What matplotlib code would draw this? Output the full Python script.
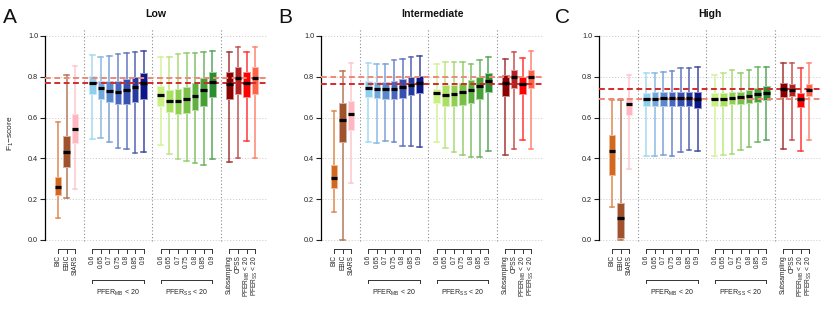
import matplotlib
matplotlib.use("Agg")
import matplotlib.pyplot as plt
import matplotlib.transforms as mtransforms
import matplotlib.colors as mcolors
import numpy as np

plt.rcParams['font.family'] = ['Liberation Sans', 'DejaVu Sans']
plt.rcParams['mathtext.fontset'] = 'custom'
plt.rcParams['mathtext.rm'] = 'Liberation Sans'
plt.rcParams['mathtext.it'] = 'Liberation Sans:italic'
plt.rcParams['mathtext.bf'] = 'Liberation Sans:bold'

# ---------------- data ----------------
panel_letters = ['A', 'B', 'C']
panel_titles = ['Low', 'Intermediate', 'High']

base_labels = ['BIC', 'EBIC', 'StARS']
cutoff_labels = ['0.6', '0.65', '0.7', '0.75', '0.8', '0.85', '0.9']
red_labels = ['Subsampling', 'CPSS', r'PFER$_{\rm MB}$ < 20', r'PFER$_{\rm SS}$ < 20']
group_labels = [r'PFER$_{\rm MB}$ < 20', r'PFER$_{\rm SS}$ < 20']

# order: BIC, EBIC, StARS, MB 0.6..0.9, SS 0.6..0.9, Subsampling, CPSS, PFER_MB, PFER_SS
A_lo  = [0.109, 0.206, 0.250, 0.495, 0.500, 0.482, 0.449, 0.448, 0.428, 0.431,
         0.464, 0.420, 0.395, 0.389, 0.377, 0.368, 0.395, 0.384, 0.400, 0.485, 0.400]
A_q1  = [0.220, 0.360, 0.477, 0.716, 0.691, 0.676, 0.665, 0.665, 0.675, 0.693,
         0.657, 0.629, 0.618, 0.621, 0.637, 0.658, 0.699, 0.690, 0.714, 0.700, 0.714]
A_med = [0.261, 0.429, 0.544, 0.771, 0.747, 0.732, 0.727, 0.734, 0.748, 0.768,
         0.711, 0.683, 0.681, 0.690, 0.706, 0.735, 0.773, 0.765, 0.796, 0.771, 0.796]
A_q3  = [0.310, 0.508, 0.618, 0.804, 0.781, 0.779, 0.779, 0.788, 0.797, 0.820,
         0.755, 0.735, 0.740, 0.748, 0.768, 0.792, 0.822, 0.822, 0.846, 0.822, 0.846]
A_hi  = [0.580, 0.809, 0.853, 0.907, 0.899, 0.902, 0.910, 0.918, 0.920, 0.928,
         0.895, 0.899, 0.910, 0.915, 0.915, 0.923, 0.926, 0.923, 0.948, 0.923, 0.948]

B_lo  = [0.135, 0.000, 0.277, 0.482, 0.474, 0.487, 0.479, 0.463, 0.461, 0.458,
         0.482, 0.450, 0.431, 0.415, 0.406, 0.406, 0.434, 0.418, 0.445, 0.490, 0.445]
B_q1  = [0.256, 0.482, 0.539, 0.703, 0.695, 0.690, 0.690, 0.697, 0.711, 0.723,
         0.671, 0.655, 0.655, 0.661, 0.674, 0.692, 0.724, 0.705, 0.744, 0.716, 0.744]
B_med = [0.305, 0.590, 0.616, 0.745, 0.742, 0.739, 0.742, 0.750, 0.761, 0.771,
         0.719, 0.710, 0.715, 0.724, 0.737, 0.756, 0.781, 0.768, 0.800, 0.763, 0.800]
B_q3  = [0.368, 0.673, 0.681, 0.781, 0.776, 0.776, 0.779, 0.787, 0.797, 0.806,
         0.742, 0.760, 0.761, 0.771, 0.784, 0.800, 0.819, 0.808, 0.832, 0.800, 0.832]
B_hi  = [0.632, 0.826, 0.869, 0.869, 0.865, 0.865, 0.880, 0.885, 0.895, 0.900,
         0.865, 0.873, 0.875, 0.875, 0.865, 0.880, 0.895, 0.885, 0.920, 0.890, 0.925]

C_lo  = [0.160, 0.000, 0.348, 0.413, 0.413, 0.418, 0.410, 0.432, 0.442, 0.437,
         0.410, 0.416, 0.421, 0.440, 0.458, 0.481, 0.490, 0.447, 0.489, 0.434, 0.489]
C_q1  = [0.321, 0.008, 0.615, 0.655, 0.658, 0.658, 0.658, 0.658, 0.655, 0.648,
         0.655, 0.655, 0.666, 0.666, 0.671, 0.676, 0.684, 0.700, 0.705, 0.652, 0.705]
C_med = [0.434, 0.108, 0.665, 0.689, 0.690, 0.694, 0.694, 0.695, 0.694, 0.690,
         0.690, 0.690, 0.697, 0.700, 0.706, 0.715, 0.723, 0.740, 0.735, 0.689, 0.735]
C_q3  = [0.515, 0.179, 0.697, 0.721, 0.724, 0.724, 0.724, 0.724, 0.727, 0.727,
         0.721, 0.721, 0.724, 0.727, 0.735, 0.745, 0.755, 0.769, 0.765, 0.721, 0.765]
C_hi  = [0.687, 0.687, 0.808, 0.818, 0.821, 0.824, 0.829, 0.845, 0.842, 0.847,
         0.810, 0.821, 0.835, 0.821, 0.834, 0.850, 0.850, 0.866, 0.866, 0.845, 0.866]

# reference lines (value, shade)
A_ref = [(0.795, 'light'), (0.768, 'dark')]
B_ref = [(0.800, 'light'), (0.766, 'dark')]
C_ref = [(0.740, 'dark'), (0.693, 'light')]

box_colors = ['#D2691E', '#A0522D', '#FFB6C1',
              '#8CCFEF', '#6EA8DC', '#5A88CC', '#4666C0', '#3650B2', '#243A9E', '#0C1688',
              '#C8F07E', '#AAE060', '#90D050', '#78C046', '#5EB03E', '#46A036', '#2A8E2E',
              '#8B0000', '#B22222', '#FF0000', '#FF6347']

# ---------------- layout ----------------
W, H = 830, 312
fig = plt.figure(figsize=(W / 100, H / 100), dpi=100)

positions = [1, 2, 3] + list(range(5, 12)) + list(range(13, 20)) + [21, 22, 23, 24]
separators = [4, 12, 20]
XL, XR = -0.517, 25.39
panel_left_px = [45, 321, 599]
panel_w_px = 222
y0_px, y1_px = 240, 36          # pixel rows of 0.0 and 1.0
unit = (y0_px - y1_px)
ax_bottom = (H - (y0_px + 0.04 * unit)) / H
ax_height = 1.08 * unit / H

letter_x_px = [3, 278, 555]


def fy(px):
    return 1 - px / H


def lighten(c, f):
    r, g, b = mcolors.to_rgb(c)
    return (r + (1 - r) * f, g + (1 - g) * f, b + (1 - b) * f)


panels = [(A_lo, A_q1, A_med, A_q3, A_hi, A_ref),
          (B_lo, B_q1, B_med, B_q3, B_hi, B_ref),
          (C_lo, C_q1, C_med, C_q3, C_hi, C_ref)]

for pi, (lo, q1, med, q3, hi, refs) in enumerate(panels):
    ax = fig.add_axes([panel_left_px[pi] / W, ax_bottom, panel_w_px / W, ax_height])
    ax.set_xlim(XL, XR)
    ax.set_ylim(-0.04, 1.04)

    yt = [0.0, 0.2, 0.4, 0.6, 0.8, 1.0]
    ax.hlines(yt, XL + 0.15, XR, colors='#C8C8C8', linestyles=(0, (1, 2)), lw=0.7, zorder=0)
    ax.vlines(separators, -0.005, 1.04, colors='#8A8A8A', linestyles=(0, (1, 2)), lw=0.8, zorder=0)

    stats = [dict(whislo=lo[i], q1=q1[i], med=med[i], q3=q3[i], whishi=hi[i], fliers=[])
             for i in range(len(lo))]
    bp = ax.bxp(stats, positions=positions, widths=0.78, patch_artist=True,
                showfliers=False, capwidths=0.55, manage_ticks=False,
                medianprops=dict(color='black', lw=2.3, solid_capstyle='butt'),
                whiskerprops=dict(lw=1.1, linestyle='-'),
                capprops=dict(lw=1.1),
                boxprops=dict(lw=0.7))
    for i, c in enumerate(box_colors):
        bp['boxes'][i].set_facecolor(c)
        bp['boxes'][i].set_edgecolor(lighten(c, 0.55))
        bp['boxes'][i].set_zorder(3)
        wc = lighten(c, 0.22)
        for k in (2 * i, 2 * i + 1):
            bp['whiskers'][k].set_color(wc)
            bp['whiskers'][k].set_zorder(2)
            bp['caps'][k].set_color(wc)
            bp['caps'][k].set_zorder(2)
        bp['medians'][i].set_zorder(5)

    for val, shade in refs:
        col = '#F08878' if shade == 'light' else '#D42A2A'
        ax.hlines(val, XL, XR, colors=col, linestyles=(0, (3, 1.8)), lw=1.4, zorder=4)

    for s in ('top', 'right', 'bottom'):
        ax.spines[s].set_visible(False)
    ax.spines['left'].set_bounds(0, 1)
    ax.spines['left'].set_linewidth(0.9)
    ax.set_yticks(yt)
    ax.set_yticklabels(['0.0', '0.2', '0.4', '0.6', '0.8', '1.0'])
    ax.tick_params(axis='y', length=3.5, width=0.8, labelsize=5.2, pad=1.5, colors='#222222')
    ax.set_xticks([])

    # bottom axis-like brackets with labels
    blend = mtransforms.blended_transform_factory(ax.transData, fig.transFigure)
    groups = [([1, 2, 3], base_labels),
              (list(range(5, 12)), cutoff_labels),
              (list(range(13, 20)), cutoff_labels),
              ([21, 22, 23, 24], red_labels)]
    for gpos, glabs in groups:
        ax.plot([gpos[0], gpos[-1]], [fy(249), fy(249)], transform=blend, clip_on=False,
                color='#333333', lw=0.7)
        for p, lab in zip(gpos, glabs):
            ax.plot([p, p], [fy(249), fy(252.5)], transform=blend, clip_on=False,
                    color='#333333', lw=0.7)
            ax.text(p, fy(255), lab, transform=blend, rotation=90, ha='center', va='top',
                    fontsize=4.8, color='#222222')
    for (gpos, glab) in zip([list(range(5, 12)), list(range(13, 20))], group_labels):
        ax.plot([gpos[0], gpos[-1]], [fy(280), fy(280)], transform=blend, clip_on=False,
                color='#333333', lw=0.7)
        for p in (gpos[0], gpos[-1]):
            ax.plot([p, p], [fy(280), fy(283)], transform=blend, clip_on=False,
                    color='#333333', lw=0.7)
        ax.text((gpos[0] + gpos[-1]) / 2, fy(293), glab, transform=blend, ha='center',
                va='center', fontsize=5.0, color='#222222')

    cx = (panel_left_px[pi] + panel_w_px / 2) / W
    fig.text(cx, fy(14), panel_titles[pi], ha='center', va='center', fontsize=7.6,
             fontweight='bold', color='#111111')
    fig.text(letter_x_px[pi] / W, fy(23), panel_letters[pi], ha='left', va='baseline',
             fontsize=15, color='#111111')

fig.text(11 / W, fy(133), 'F$_1$\u2212score', rotation=90, ha='center', va='center',
         fontsize=6.0, color='#222222')

fig.savefig('out.png', dpi=100)
